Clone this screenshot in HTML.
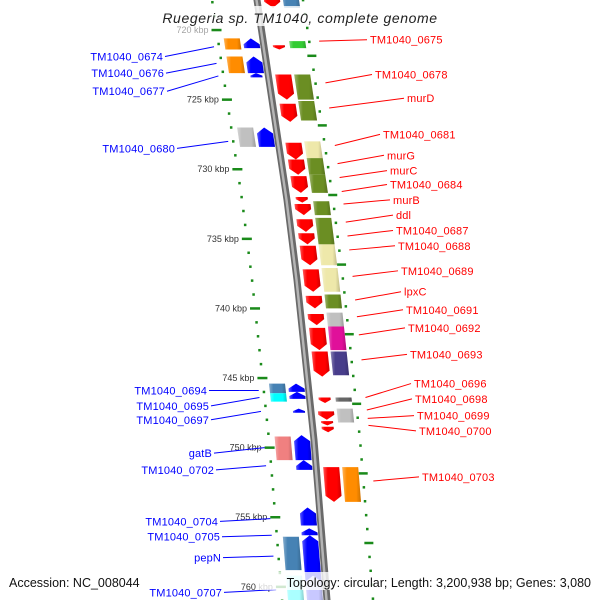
<!DOCTYPE html>
<html><head><meta charset="utf-8">
<style>
html,body{margin:0;padding:0;background:#fff;}
svg{display:block;font-family:"Liberation Sans","DejaVu Sans",sans-serif;}
.lb{font-size:11px;letter-spacing:0.15px;}
.kb{font-size:9px;fill:#333;}
</style></head>
<body>
<svg id="map" width="600" height="600" viewBox="0 0 600 600" xmlns="http://www.w3.org/2000/svg">
<defs>
<linearGradient id="shade" x1="0" x2="1" y1="0" y2="0"><stop offset="0" stop-color="#fff" stop-opacity="0.35"/><stop offset="0.25" stop-color="#fff" stop-opacity="0"/><stop offset="0.75" stop-color="#000" stop-opacity="0"/><stop offset="1" stop-color="#000" stop-opacity="0.2"/></linearGradient>
</defs>
<g id="ticks"></g>
<g id="backbone"></g>
<g id="feats"></g>
<g id="labels"></g>
<rect x="158" y="6" width="284" height="20" fill="#fff" opacity="0.8"/>
<text x="300" y="23" text-anchor="middle" font-size="14" font-style="italic" letter-spacing="0.6" fill="#222">Ruegeria sp. TM1040, complete genome</text>
<rect x="258" y="572" width="336" height="18" fill="#fff" opacity="0.8"/>
<text x="9" y="587" font-size="12.5" fill="#111">Accession: NC_008044</text>
<text x="591" y="587" text-anchor="end" font-size="12.5" fill="#111">Topology: circular; Length: 3,200,938 bp; Genes: 3,080</text>
</svg>
<script>
// ---- data (kbp positions) ----
const tickStart = 716;
const tickEnd = 762;
const majorTicks = [720,725,730,735,740,745,750,755,760];
const tickLabels = ["720 kbp","725 kbp","730 kbp","735 kbp","740 kbp","745 kbp","750 kbp","755 kbp","760 kbp"];
const fwdStart = [717.1,721.1,723.2,725.3,728.1,729.3,730.5,732.0,732.5,733.6,734.6,735.5,737.2,739.1,740.4,741.4,743.1,746.4,747.4,748.1,748.5,751.4];
const fwdEnd   = [718.4,721.4,725.0,726.6,729.3,730.4,731.7,732.4,733.3,734.5,735.4,736.9,738.8,740.0,741.2,743.0,744.9,746.8,748.0,748.4,748.9,753.9];
const fcStart = [717.1,720.8,723.2,725.1,728.0,729.2,730.4,732.3,733.5,735.4,737.1,739.0,740.3,741.3,743.1,746.4,747.2,751.4];
const fcEnd   = [718.4,721.3,725.0,726.5,729.2,730.4,731.7,733.3,735.4,736.9,738.8,740.0,741.3,743.0,744.8,746.7,748.2,753.9];
const fcColor = ["#4682b4","#33cc33","#6b8e23","#6b8e23","#eee8aa","#6b8e23","#6b8e23","#6b8e23","#6b8e23","#eee8aa","#eee8aa","#6b8e23","#c0c0c0","#e0109a","#483d8b","#666666","#c0c0c0","#ff8c00"];
const revStart = [720.6,721.9,723.1,727.0,745.4,746.0,747.2,749.1,750.9,754.3,755.8,756.3,759.2];
const revEnd   = [721.3,723.1,723.4,728.4,746.0,746.5,747.5,750.9,751.6,755.6,756.3,760.2,761.0];
const revColor = ["#0000ff","#0000ff","#0000ff","#0000ff","#0000ff","#0000ff","#0000ff","#0000ff","#0000ff","#0000ff","#0000ff","#0000ff","#c8c8ff"];
const rcStart = [720.6,721.9,727.0,745.4,746.1,749.2,756.4,759.2];
const rcEnd   = [721.4,723.1,728.4,746.1,746.7,750.9,758.8,761.0];
const rcColor = ["#ff8c00","#ff8c00","#c0c0c0","#4682b4","#00ffff","#f08080","#4682b4","#aaffff"];
const leftNames = ["TM1040_0674","TM1040_0676","TM1040_0677","TM1040_0680","TM1040_0694","TM1040_0695","TM1040_0697","gatB","TM1040_0702","TM1040_0704","TM1040_0705","pepN","TM1040_0707"];
const leftLabelPos = [721.9,723.1,724.4,728.5,745.9,747.0,748.0,750.4,751.6,755.3,756.4,757.9,760.4];
const leftGenePos  = [721.2,722.4,723.3,728.0,745.9,746.4,747.4,750.0,751.3,755.1,756.3,757.8,760.2];
const rightNames = ["TM1040_0675","TM1040_0678","murD","TM1040_0681","murG","murC","TM1040_0684","murB","ddl","TM1040_0687","TM1040_0688","TM1040_0689","lpxC","TM1040_0691","TM1040_0692","TM1040_0693","TM1040_0696","TM1040_0698","TM1040_0699","TM1040_0700","TM1040_0703"];
const rightLabelPos = [720.7,723.2,724.9,727.5,729.0,730.1,731.1,732.2,733.3,734.4,735.5,737.3,738.8,740.1,741.4,743.3,745.4,746.5,747.7,748.8,752.1];
const rightGenePos  = [720.8,723.8,725.6,728.3,729.6,730.6,731.6,732.5,733.8,734.8,735.8,737.7,739.4,740.6,741.9,743.7,746.4,747.3,747.9,748.4,752.4];

// layout: label text anchors (pixels, not data)
const leftTextEnd = [163,164,165,175,207,209,209,212,214,218,220,221,222];
const rightTextStart = [370,375,407,383,387,390,390,393,396,396,398,401,404,406,408,410,414,415,417,419,422];

// ---- scales ----
const Y = k => 30 + (k - 720) * 13.92;
const bpY = [0,200,280,440,600], bpX = [257,287,297,314,327];
function bx(y){
  if (y <= bpY[0]) return bpX[0] + (y-bpY[0])*0.15;
  for (let i=1;i<bpY.length;i++){ if (y<=bpY[i]) return bpX[i-1]+(bpX[i]-bpX[i-1])*(y-bpY[i-1])/(bpY[i]-bpY[i-1]); }
  return bpX[bpX.length-1] + (y-600)*0.08;
}
const NS="http://www.w3.org/2000/svg";
function mk(tag, attrs, parent){ const e=document.createElementNS(NS,tag); for(const k in attrs) e.setAttribute(k,attrs[k]); parent.appendChild(e); return e; }
const gT=document.getElementById('ticks'), gB=document.getElementById('backbone'), gF=document.getElementById('feats'), gL=document.getElementById('labels');

let pts=[]; for(let y=-5;y<=605;y+=5) pts.push(bx(y)+','+y);
const bbl = mk('polyline',{points:pts.join(' '),fill:'none',stroke:'#6a6a6a','stroke-width':7},gB);


const bbh = mk('polyline',{points:pts.map(p=>{const [x,y]=p.split(',');return (+x-0.5)+','+y;}).join(' '),fill:'none',stroke:'#b5b5b5','stroke-width':2.5},gB);



for (let k=tickStart;k<=tickEnd;k++){
  const y=Y(k); const major=majorTicks.indexOf(k);
  const x=bx(y)-45;
  const t = mk('rect',{x: major>=0? x-5:x-1.2, y:y-1.2, width: major>=0?10:2.5, height:2.5, fill:'#1a8a1a'},gT);
  
  
  if (major>=0){
    const tl = mk('text',{x:x-8,y:y+3,'text-anchor':'end',class:'kb'},gT);
    tl.textContent = tickLabels[major];
    
    
    if (k===720) tl.setAttribute('opacity','0.45');
  }
  const y2=Y(k-0.15); const xr=bx(y2)+46;
  const r = mk('rect',{x: (k%5===2)? xr-4:xr-1.2, y:y2-1.2, width:(k%5===2)?9:2.5, height:2.5, fill:'#1a8a1a'},gT);
  
  
}

function quad(y1,y2,o1,o2){
  return [[bx(y1)+o1,y1],[bx(y1)+o2,y1],[bx(y2)+o2,y2],[bx(y2)+o1,y2]];
}
function box(s,e,o1,o2,color,name){
  const y1=Y(s), y2=Y(e); const p=quad(y1,y2,o1,o2).map(a=>a.join(',')).join(' ');
  const b=mk('polygon',{points:p,fill:color},gF);
  
  
  const sh=mk('polygon',{points:p,fill:'url(#shade)'},gF);
  
  
}
function arrow(s,e,o1,o2,color,dir,name){
  const y1=Y(s), y2=Y(e); const h=y2-y1; const tip=Math.min(6,h*0.6);
  let p;
  const m=(o1+o2)/2;
  if (dir>0){
    const yb=y2-tip;
    p=[[bx(y1)+o1,y1],[bx(y1)+o2,y1],[bx(yb)+o2,yb],[bx(y2)+m,y2],[bx(yb)+o1,yb]];
  } else {
    const yb=y1+tip;
    p=[[bx(y1)+m,y1],[bx(yb)+o2,yb],[bx(y2)+o2,y2],[bx(y2)+o1,y2],[bx(yb)+o1,yb]];
  }
  const ps=p.map(a=>a.join(',')).join(' ');
  const a=mk('polygon',{points:ps,fill:color},gF);
  
  
  const sh=mk('polygon',{points:ps,fill:'url(#shade)'},gF);
  
  
}
for (let i=0;i<fwdStart.length;i++){
  const small=(fwdEnd[i]-fwdStart[i])<0.5;
  arrow(fwdStart[i],fwdEnd[i],small?9:7,small?21:23,'#ff0000',1,'forward-gene');
}
for (let i=0;i<fcStart.length;i++) box(fcStart[i],fcEnd[i],26,42,fcColor[i],'forward-cog-box');
for (let i=0;i<revStart.length;i++){
  const small=(revEnd[i]-revStart[i])<0.5;
  arrow(revStart[i],revEnd[i],small?-18:-20,small?-6:-4,revColor[i],-1,'reverse-gene');
}
for (let i=0;i<rcStart.length;i++) box(rcStart[i],rcEnd[i],-39,-23,rcColor[i],'reverse-cog-box');

for (let i=0;i<leftNames.length;i++){
  const ly=Y(leftLabelPos[i]), gy=Y(leftGenePos[i]);
  const tx=leftTextEnd[i];
  const ln=mk('line',{x1:tx+2,y1:ly,x2:bx(gy)-50,y2:gy,stroke:'#0000ff','stroke-width':1},gL);
  
  
  const t=mk('text',{x:tx,y:ly+4,'text-anchor':'end',class:'lb',fill:'#0000ff'},gL);
  t.textContent=leftNames[i];
  
  
}
for (let i=0;i<rightNames.length;i++){
  const ly=Y(rightLabelPos[i]), gy=Y(rightGenePos[i]);
  const tx=rightTextStart[i];
  const ln=mk('line',{x1:bx(gy)+56,y1:gy,x2:tx-3,y2:ly,stroke:'#ff0000','stroke-width':1},gL);
  
  
  const t=mk('text',{x:tx,y:ly+4,class:'lb',fill:'#ff0000'},gL);
  t.textContent=rightNames[i];
  
  
}
</script>
</body></html>
